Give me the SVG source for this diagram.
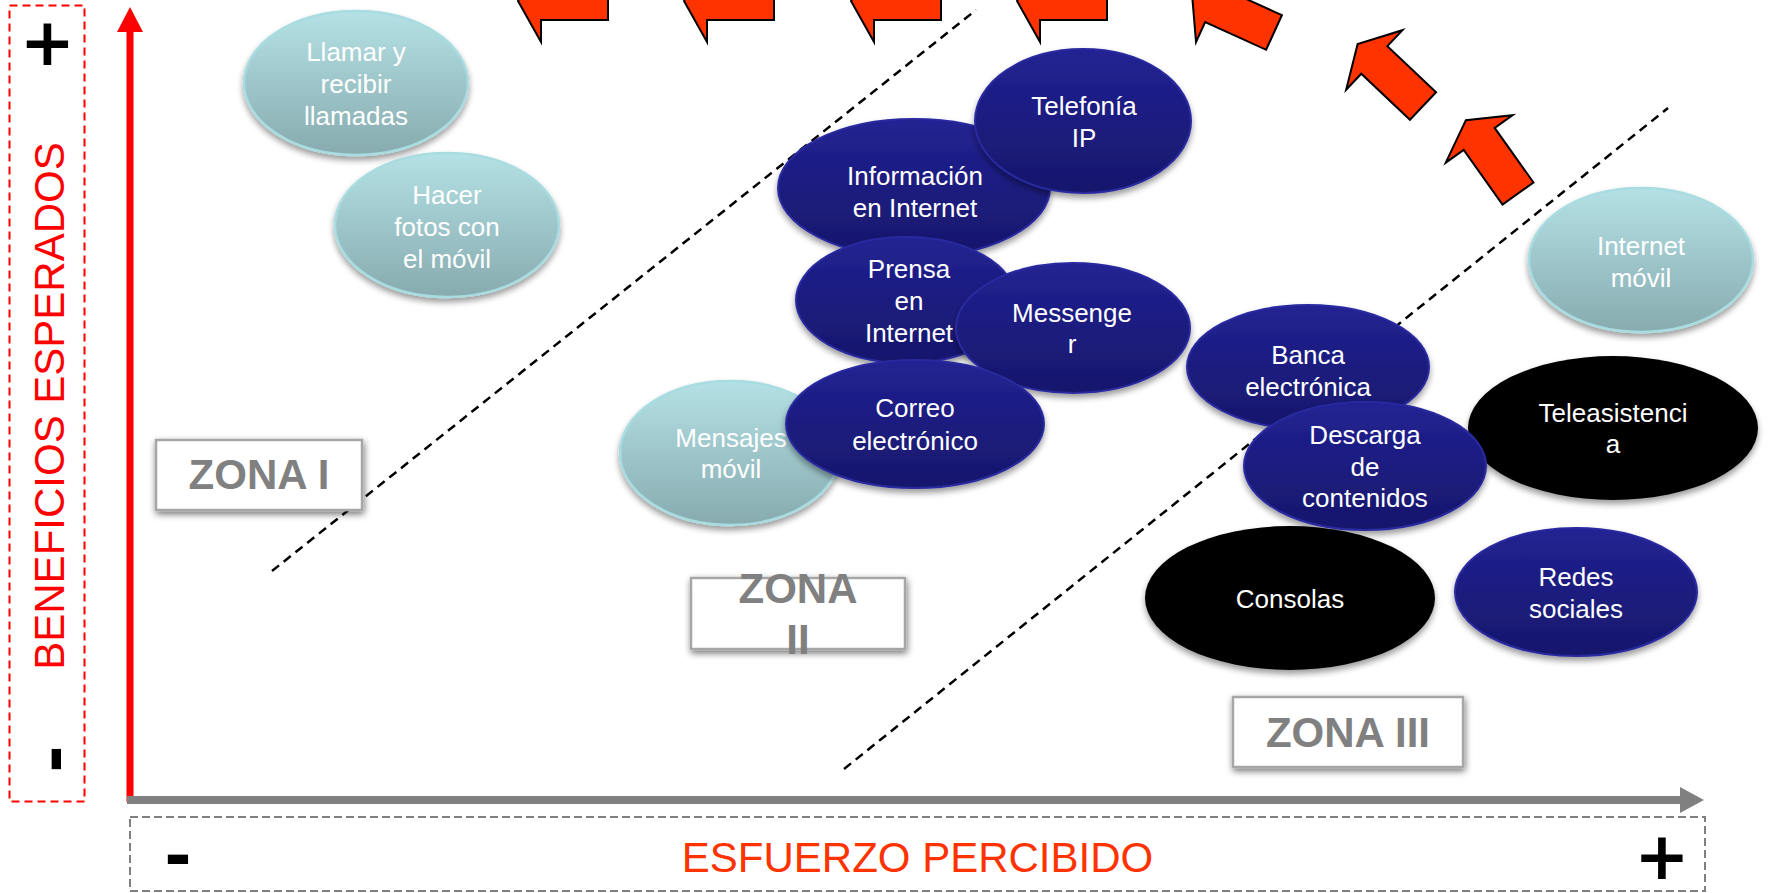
<svg xmlns="http://www.w3.org/2000/svg" width="1768" height="893" viewBox="0 0 1768 893">
<style>
.lbl{font-family:"Liberation Sans",Arial,sans-serif;font-size:26px;fill:#fff;text-anchor:middle}
.zona{font-family:"Liberation Sans",Arial,sans-serif;font-size:42px;font-weight:bold;fill:#808080;text-anchor:middle}
.zbox{fill:#fff;stroke:#A6A6A6;stroke-width:2.5}
.sign{font-family:"DejaVu Sans",sans-serif;font-size:66px;font-weight:bold;fill:#000;text-anchor:middle}
.axislbl{font-family:"Liberation Sans",Arial,sans-serif;font-size:42px;text-anchor:middle}
.teal{fill:url(#gTeal);stroke:#A8DCE1;stroke-width:2.5}
.navy{fill:url(#gNavy);stroke:#2A2AA0;stroke-width:2}
.blk{fill:#000}
.zone-line{stroke:#000;stroke-width:2.5;stroke-dasharray:9 6;fill:none}
.barrow{fill:#FF3300;stroke:#000;stroke-width:2;stroke-linejoin:miter}
</style>
<defs>
<linearGradient id="gTeal" x1="0" y1="0" x2="0" y2="1">
<stop offset="0" stop-color="#B4E1E5"/>
<stop offset="1" stop-color="#87ABAF"/>
</linearGradient>
<linearGradient id="gNavy" x1="0" y1="0" x2="0" y2="1">
<stop offset="0" stop-color="#222293"/>
<stop offset="1" stop-color="#17176C"/>
</linearGradient>
<filter id="shadow" x="-20%" y="-20%" width="140%" height="150%">
<feGaussianBlur in="SourceAlpha" stdDeviation="3"/>
<feOffset dx="0" dy="4"/>
<feComponentTransfer><feFuncA type="linear" slope="0.4"/></feComponentTransfer>
<feMerge><feMergeNode/><feMergeNode in="SourceGraphic"/></feMerge>
</filter>
<filter id="boxShadow" x="-20%" y="-40%" width="140%" height="180%">
<feGaussianBlur in="SourceAlpha" stdDeviation="3.5"/>
<feOffset dx="1" dy="3"/>
<feComponentTransfer><feFuncA type="linear" slope="0.55"/></feComponentTransfer>
<feMerge><feMergeNode/><feMergeNode in="SourceGraphic"/></feMerge>
</filter>
<marker id="headRed" markerUnits="userSpaceOnUse" markerWidth="26" markerHeight="26" refX="0" refY="13" orient="auto" viewBox="0 0 25 26">
<path d="M0,0 L25,13 L0,26 Z" fill="#FF0000"/>
</marker>
<marker id="headGray" markerUnits="userSpaceOnUse" markerWidth="25" markerHeight="26" refX="0" refY="13" orient="auto" viewBox="0 0 24 26">
<path d="M0,0 L24,13 L0,26 Z" fill="#808080"/>
</marker>
<path id="blockArrow" d="M0,-19 L-67,-19 L-67,-41 L-90,0 L-67,41 L-67,19 L0,19 Z"/>
</defs>

<rect width="1768" height="893" fill="#fff"/>

<g id="connectors">
<rect x="9.5" y="5.5" width="75" height="796" fill="none" stroke="#FF0000" stroke-width="2" stroke-dasharray="8 5"/>
<rect x="130" y="817" width="1575" height="74" fill="none" stroke="#808080" stroke-width="2" stroke-dasharray="8 4"/>
<line x1="130" y1="802" x2="130" y2="32" stroke="#FF0000" stroke-width="7" marker-end="url(#headRed)"/>
<line x1="127" y1="800" x2="1680" y2="800" stroke="#808080" stroke-width="8" marker-end="url(#headGray)"/>
<line class="zone-line" x1="272" y1="571" x2="976" y2="10"/>
<line class="zone-line" x1="844" y1="769" x2="1668" y2="108"/>
<use href="#blockArrow" class="barrow" transform="translate(608,1)"/>
<use href="#blockArrow" class="barrow" transform="translate(774,1)"/>
<use href="#blockArrow" class="barrow" transform="translate(941,1)"/>
<use href="#blockArrow" class="barrow" transform="translate(1107,1)"/>
<use href="#blockArrow" class="barrow" transform="translate(1274,32.5) rotate(24.5)"/>
<use href="#blockArrow" class="barrow" transform="translate(1423,106) rotate(43.4)"/>
<use href="#blockArrow" class="barrow" transform="translate(1518,193.5) rotate(54.6)"/>
</g>

<g id="axis-y-label">
<text class="sign" x="47.5" y="65">+</text>
<text class="sign" transform="translate(55,759) rotate(-90)" x="0" y="20">-</text>
<text class="axislbl" fill="#FF0000" transform="translate(64,406) rotate(-90)">BENEFICIOS ESPERADOS</text>
</g>
<g id="axis-x-label">
<text class="sign" x="178" y="878">-</text>
<text class="sign" x="1662" y="879">+</text>
<text class="axislbl" fill="#FF3300" x="917.5" y="872">ESFUERZO PERCIBIDO</text>
</g>

<g id="zona1">
<rect class="zbox" x="156" y="440" width="206" height="70" filter="url(#boxShadow)"/>
<text class="zona" x="259" y="489">ZONA I</text>
</g>
<g id="zona2">
<rect class="zbox" x="691" y="578" width="214" height="71" filter="url(#boxShadow)"/>
<text class="zona" x="798" y="603">ZONA</text>
<text class="zona" x="798" y="654">II</text>
</g>
<g id="zona3">
<rect class="zbox" x="1233" y="697" width="230" height="70" filter="url(#boxShadow)"/>
<text class="zona" x="1348" y="747">ZONA III</text>
</g>

<g id="llamar">
<ellipse class="teal" cx="356" cy="83" rx="112" ry="72" filter="url(#shadow)"/>
<text class="lbl" x="356" y="61">Llamar y</text>
<text class="lbl" x="356" y="93">recibir</text>
<text class="lbl" x="356" y="125">llamadas</text>
</g>
<g id="fotos">
<ellipse class="teal" cx="447" cy="225" rx="112" ry="72" filter="url(#shadow)"/>
<text class="lbl" x="447" y="204">Hacer</text>
<text class="lbl" x="447" y="236">fotos con</text>
<text class="lbl" x="447" y="268">el móvil</text>
</g>
<g id="informacion">
<ellipse class="navy" cx="914" cy="188" rx="136" ry="69" filter="url(#shadow)"/>
<text class="lbl" x="915" y="185">Información</text>
<text class="lbl" x="915" y="217">en Internet</text>
</g>
<g id="telefonia">
<ellipse class="navy" cx="1083" cy="121" rx="108" ry="72" filter="url(#shadow)"/>
<text class="lbl" x="1084" y="115">Telefonía</text>
<text class="lbl" x="1084" y="147">IP</text>
</g>
<g id="prensa">
<ellipse class="navy" cx="906" cy="300" rx="110" ry="63" filter="url(#shadow)"/>
<text class="lbl" x="909" y="278">Prensa</text>
<text class="lbl" x="909" y="310">en</text>
<text class="lbl" x="909" y="342">Internet</text>
</g>
<g id="messenger">
<ellipse class="navy" cx="1073" cy="328" rx="117" ry="65" filter="url(#shadow)"/>
<text class="lbl" x="1072" y="322">Messenge</text>
<text class="lbl" x="1072" y="353">r</text>
</g>
<g id="mensajes">
<ellipse class="teal" cx="730" cy="453" rx="110" ry="72" filter="url(#shadow)"/>
<text class="lbl" x="731" y="447">Mensajes</text>
<text class="lbl" x="731" y="478">móvil</text>
</g>
<g id="correo">
<ellipse class="navy" cx="915" cy="424" rx="129" ry="64" filter="url(#shadow)"/>
<text class="lbl" x="915" y="417">Correo</text>
<text class="lbl" x="915" y="450">electrónico</text>
</g>
<g id="internet-movil">
<ellipse class="teal" cx="1641" cy="260" rx="112" ry="72" filter="url(#shadow)"/>
<text class="lbl" x="1641" y="255">Internet</text>
<text class="lbl" x="1641" y="287">móvil</text>
</g>
<g id="banca">
<ellipse class="navy" cx="1308" cy="367" rx="121" ry="62" filter="url(#shadow)"/>
<text class="lbl" x="1308" y="364">Banca</text>
<text class="lbl" x="1308" y="396">electrónica</text>
</g>
<g id="teleasistencia">
<ellipse class="blk" cx="1613" cy="428" rx="145" ry="72" filter="url(#shadow)"/>
<text class="lbl" x="1613" y="422">Teleasistenci</text>
<text class="lbl" x="1613" y="453">a</text>
</g>
<g id="descarga">
<ellipse class="navy" cx="1365" cy="466" rx="121" ry="64" filter="url(#shadow)"/>
<text class="lbl" x="1365" y="444">Descarga</text>
<text class="lbl" x="1365" y="476">de</text>
<text class="lbl" x="1365" y="507">contenidos</text>
</g>
<g id="consolas">
<ellipse class="blk" cx="1290" cy="598" rx="145" ry="72" filter="url(#shadow)"/>
<text class="lbl" x="1290" y="608">Consolas</text>
</g>
<g id="redes">
<ellipse class="navy" cx="1576" cy="592" rx="121" ry="64" filter="url(#shadow)"/>
<text class="lbl" x="1576" y="586">Redes</text>
<text class="lbl" x="1576" y="618">sociales</text>
</g>
</svg>
